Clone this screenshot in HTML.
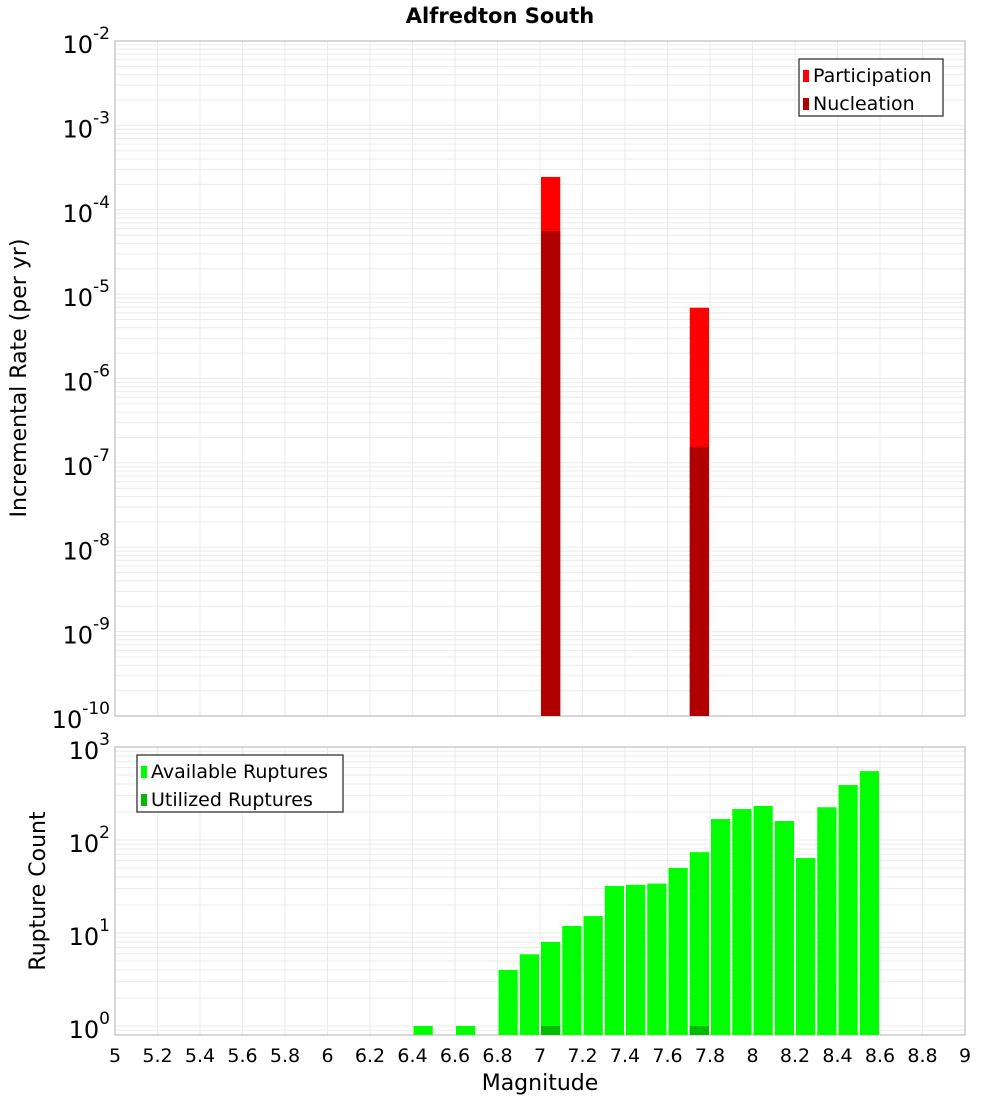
<!DOCTYPE html>
<html><head><meta charset="utf-8"><style>
body{margin:0;background:#fff;font-family:"Liberation Sans","DejaVu Sans",sans-serif}
svg text{font-family:"DejaVu Sans","Liberation Sans",sans-serif}
</style></head><body>
<svg id="c" width="1000" height="1100" xmlns="http://www.w3.org/2000/svg">
<text x="500" y="23" text-anchor="middle" font-size="21" font-weight="bold">Alfredton South</text>
<g id="topG"></g>
<g id="botG"></g>
<text transform="translate(26,378) rotate(-90)" text-anchor="middle" font-size="22">Incremental Rate (per yr)</text>
<text transform="translate(45,891) rotate(-90)" text-anchor="middle" font-size="22">Rupture Count</text>
<text x="540" y="1090" text-anchor="middle" font-size="22">Magnitude</text>
</svg>
<script>
const mags=[7.0,7.7];
const participation=[2.45e-4,6.9e-6];
const nucleation=[5.6e-5,1.55e-7];
const countMags=[6.4,6.6,6.8,6.9,7.0,7.1,7.2,7.3,7.4,7.5,7.6,7.7,7.8,7.9,8.0,8.1,8.2,8.3,8.4,8.5];
const available=[1,1,4,5.9,8,11.9,15.2,32,33,34,50,74,168,215,232,160,64,225,390,550];
const utilMags=[7.0,7.7];
const utilized=[1,1];
const xTicks=[5,5.2,5.4,5.6,5.8,6,6.2,6.4,6.6,6.8,7,7.2,7.4,7.6,7.8,8,8.2,8.4,8.6,8.8,9];
const topExps=[-2,-3,-4,-5,-6,-7,-8,-9,-10];
const botExps=[0,1,2,3];

const NS="http://www.w3.org/2000/svg";
const X0=115,X1=965;
const xs=m=>X0+(m-5)/4*(X1-X0);
const T0=41,T1=716;
const ysT=v=>T0+(-2-Math.log10(v))/8*(T1-T0);
const B0=747,B1=1035,BD=93,Bzero=1026;
const ysB=v=>Bzero-Math.log10(v)*BD;
function el(p,t,a){const e=document.createElementNS(NS,t);for(const k in a)e.setAttribute(k,a[k]);p.appendChild(e);return e;}
const topG=document.getElementById('topG'),botG=document.getElementById('botG');

function grid(g,y0,y1,exps,ys){
  for(let k=0;k<exps.length;k++){const e=exps[k];
    for(let m=1;m<10;m++){const y=ys(m*Math.pow(10,e));if(y>=y0&&y<=y1){const l=el(g,'line',{x1:X0,x2:X1,y1:y,y2:y,stroke:'#ebebeb','stroke-width':1});
      
      }}
  }
  for(const t of xTicks){const x=xs(t);const l=el(g,'line',{x1:x,x2:x,y1:y0,y2:y1,stroke:'#ebebeb','stroke-width':1});
    
    }
  const f=el(g,'rect',{x:X0,y:y0,width:X1-X0,height:y1-y0,fill:'none',stroke:'#b0b0b0','stroke-width':1});
  
  
}
grid(topG,T0,T1,[-3,-4,-5,-6,-7,-8,-9,-10],ysT);
grid(botG,B0,B1,[-1,0,1,2],ysB);

function ylabel(g,y,e){const t=el(g,'text',{x:110,y:y+12,'text-anchor':'end','font-size':24});
  
  
  t.textContent='10';const s=el(t,'tspan',{dy:-14,'font-size':17});s.textContent=e;}
topExps.forEach(e=>ylabel(topG,ysT(Math.pow(10,e)),e));
botExps.forEach(e=>ylabel(botG,ysB(Math.pow(10,e)),e));
xTicks.forEach(t=>{const l=el(botG,'text',{x:xs(t),y:1062,'text-anchor':'middle','font-size':19});
  
  
  l.textContent=String(t);});

function bar(g,m,v,ys,y0,y1,col,name){const x=xs(m)+1,w=xs(m+0.1)-xs(m)-2;const y=Math.max(ys(v),y0);
  const r=el(g,'rect',{x:x,y:y,width:w,height:Math.max(0,y1-y),fill:col});
  
  }
mags.forEach((m,i)=>bar(topG,m,participation[i],ysT,T0,T1,'#ff0000','participation-bar'));
mags.forEach((m,i)=>bar(topG,m,nucleation[i],ysT,T0,T1,'#b00000','nucleation-bar'));
countMags.forEach((m,i)=>bar(botG,m,available[i],ysB,B0,B1,'#00ff00','available-bar'));
utilMags.forEach((m,i)=>bar(botG,m,utilized[i],ysB,B0,B1,'#00bb00','utilized-bar'));

function legend(g,x,y,w,items){const r=el(g,'rect',{x:x,y:y,width:w,height:57,fill:'#fff',stroke:'#333','stroke-width':1.3});
  
  
  items.forEach((it,i)=>{const s=el(g,'rect',{x:x+4,y:y+11+i*28,width:6,height:12,fill:it[1]});
    
    
    const t=el(g,'text',{x:x+14,y:y+23+i*28,'font-size':19});
    
    
    t.textContent=it[0];});}
legend(topG,799,59,144,[['Participation','#ff0000'],['Nucleation','#b00000']]);
legend(botG,137,755,206,[['Available Ruptures','#00ff00'],['Utilized Ruptures','#00bb00']]);
</script>
</body></html>
